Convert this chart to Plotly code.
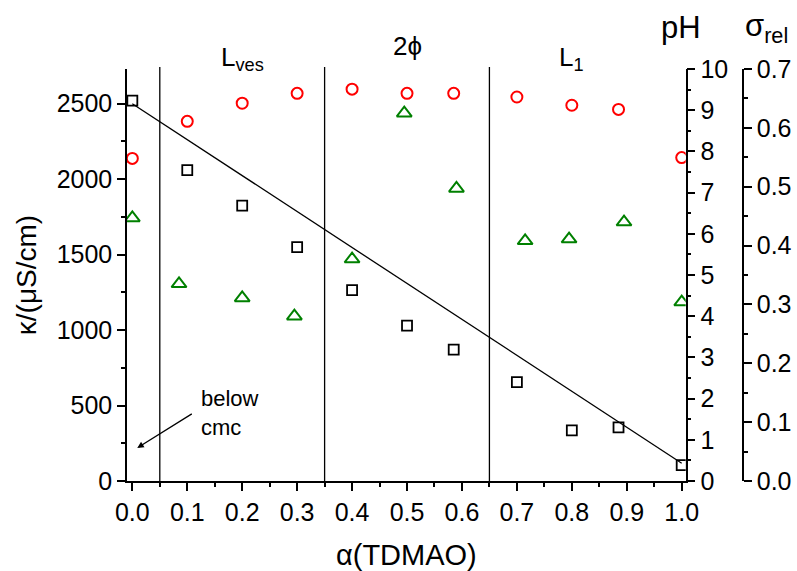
import plotly.graph_objects as go

# conductivity (left axis)
x_kappa = [0.0, 0.1, 0.2, 0.3, 0.4, 0.5, 0.585, 0.7, 0.8, 0.885, 1.0]
kappa = [2520, 2060, 1825, 1550, 1265, 1030, 870, 655, 335, 355, 105]
# linear fit
fit_x = [0.0, 1.0]
fit_y = [2500, 118]
# pH (first right axis)
x_ph = [0.0, 0.1, 0.2, 0.3, 0.4, 0.5, 0.585, 0.7, 0.8, 0.885, 1.0]
ph = [7.83, 8.73, 9.17, 9.41, 9.51, 9.41, 9.41, 9.32, 9.12, 9.02, 7.85]
# sigma_rel (second right axis)
x_sig = [0.0, 0.085, 0.2, 0.295, 0.4, 0.495, 0.59, 0.715, 0.795, 0.895, 1.0]
sig = [0.447, 0.335, 0.311, 0.280, 0.377, 0.625, 0.497, 0.408, 0.411, 0.440, 0.304]
# phase boundaries
boundaries = [0.05, 0.35, 0.65]
phase_labels = ["L<sub>ves</sub>", "2\u03d5", "L<sub>1</sub>"]
phase_x = [0.2, 0.5, 0.8]
phase_y = [1.025, 1.055, 1.025]

FONT = "Liberation Sans, Arial, sans-serif"
fig = go.Figure()
fig.add_trace(go.Scatter(x=fit_x, y=fit_y, mode="lines",
                         line=dict(color="black", width=1.3), yaxis="y"))
fig.add_trace(go.Scatter(x=x_kappa, y=kappa, mode="markers", yaxis="y",
                         marker=dict(symbol="square-open", size=10, color="black",
                                     line=dict(width=1.8, color="black"))))
fig.add_trace(go.Scatter(x=x_ph, y=ph, mode="markers", yaxis="y2",
                         marker=dict(symbol="circle-open", size=11, color="red",
                                     line=dict(width=2, color="red"))))
fig.add_trace(go.Scatter(x=x_sig, y=sig, mode="markers", yaxis="y3",
                         marker=dict(symbol="triangle-up-open", size=13, color="green",
                                     line=dict(width=2, color="green"))))

for b in boundaries:
    fig.add_shape(type="line", xref="x", yref="paper", x0=b, x1=b, y0=0, y1=1.005,
                  line=dict(color="black", width=1.3))

for lab, px, py in zip(phase_labels, phase_x, phase_y):
    fig.add_annotation(x=px, xref="x", y=py, yref="paper", yanchor="middle",
                       text=lab, showarrow=False,
                       font=dict(family=FONT, size=26, color="black"))

fig.add_annotation(x=0.009, y=219, xref="x", yref="y", ax=0.111, ay=451,
                   axref="x", ayref="y", text="", showarrow=True,
                   arrowhead=2, arrowsize=1, arrowwidth=1.3, arrowcolor="black")
fig.add_annotation(x=0.122, y=451, xref="x", yref="y", xanchor="left",
                   yanchor="middle", text="below<br>cmc", showarrow=False,
                   align="left", font=dict(family=FONT, size=22, color="black"))

fig.add_annotation(x=0.935, y=1.1, xref="paper", yref="paper", text="pH",
                   yanchor="middle", showarrow=False,
                   font=dict(family=FONT, size=31, color="black"))
fig.add_annotation(x=1.0, y=1.1, xref="paper", yref="paper", xanchor="left",
                   yanchor="middle", text="\u03c3<sub>rel</sub>", showarrow=False,
                   font=dict(family=FONT, size=31, color="black"))

axis_common = dict(showgrid=False, zeroline=False, showline=True, linecolor="black",
                   linewidth=1.5, ticks="outside", ticklen=8, tickwidth=1.5,
                   tickcolor="black", automargin=False,
                   tickfont=dict(family=FONT, size=25, color="black"))

fig.update_layout(
    width=797, height=571, showlegend=False,
    plot_bgcolor="white", paper_bgcolor="white",
    margin=dict(l=127, r=54, t=69, b=90),
    font=dict(family=FONT, color="black"),
    xaxis=dict(domain=[0, 0.907], range=[-0.0097, 1.0073], dtick=0.1, tick0=0,
               tickformat=".1f",
               minor=dict(dtick=0.05, ticklen=4, tickwidth=1.5, tickcolor="black",
                          ticks="outside"),
               title=dict(text="\u03b1(TDMAO)", font=dict(family=FONT, size=29),
                          standoff=20),
               **axis_common),
    yaxis=dict(range=[0, 2730], dtick=500, tick0=0,
               minor=dict(dtick=250, ticklen=4, tickwidth=1.5, tickcolor="black",
                          ticks="outside"),
               title=dict(text="\u03ba/(\u03bcS/cm)", font=dict(family=FONT, size=28),
                          standoff=12),
               **axis_common),
    yaxis2=dict(range=[0, 10], dtick=1, tick0=0, overlaying="y", side="right",
                anchor="x",
                minor=dict(dtick=0.5, ticklen=4, tickwidth=1.5, tickcolor="black",
                           ticks="outside"),
                **axis_common),
    yaxis3=dict(range=[0, 0.7], dtick=0.1, tick0=0, tickformat=".1f",
                overlaying="y", side="right", anchor="free", position=1.0,
                minor=dict(dtick=0.05, ticklen=4, tickwidth=1.5, tickcolor="black",
                           ticks="outside"),
                **axis_common),
)

fig.write_html("out.html")
